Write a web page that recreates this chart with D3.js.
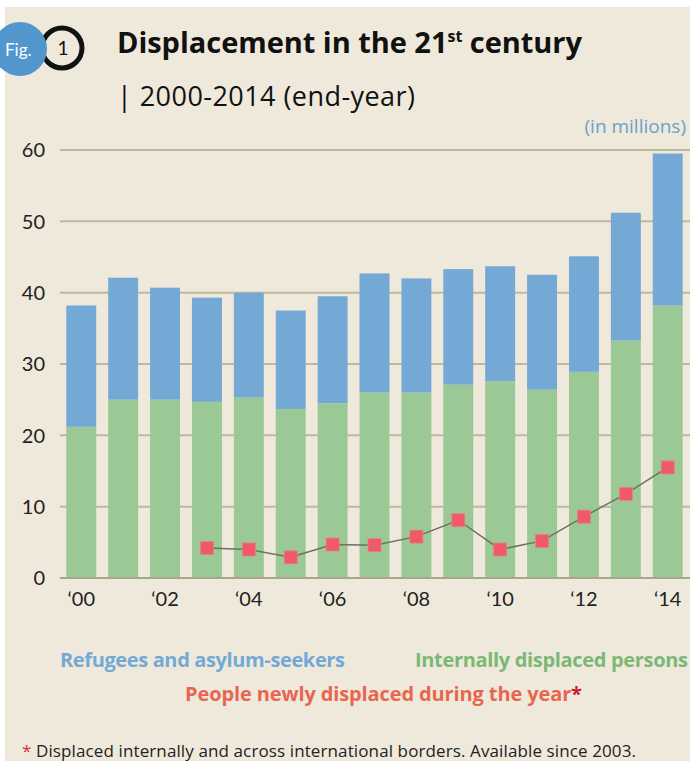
<!DOCTYPE html>
<head>
    <meta charset="utf-8">
    <script src="https://cdn.jsdelivr.net/npm/d3@7"></script>
    <style type="text/css">
        body { margin: 0; background: #fff; }
        svg { display: block; font-family: Lato, "Open Sans", sans-serif; }
        .os { font-family: "Open Sans", sans-serif; }
    </style>
</head>
<body>
    <div id="chart"></div>
</body>
</html>

<script type="text/javascript">
	// Data (millions, end-year)
	var years = d3.range(2000, 2015);
	var idps = [21.2, 25.0, 25.0, 24.7, 25.3, 23.7, 24.5, 26.0, 26.0, 27.1, 27.6, 26.4, 28.9, 33.3, 38.2];
	var refugees = [17.0, 17.1, 15.7, 14.6, 14.7, 13.8, 15.0, 16.7, 16.0, 16.2, 16.1, 16.1, 16.2, 17.9, 21.3];
	var newlyDisplaced = [null, null, null, 4.2, 4.0, 2.9, 4.7, 4.6, 5.8, 8.1, 4.0, 5.2, 8.6, 11.8, 15.5];
	var yTicks = [0, 10, 20, 30, 40, 50, 60];
	var xLabelYears = [2000, 2002, 2004, 2006, 2008, 2010, 2012, 2014];

	var width = 690, height = 761;

	var svg = d3.select('#chart').append("svg")
		.attr("width", width)
		.attr("height", height);

	// beige panel with thin white margin top/left
	svg.append("rect")
		.attr("x", 5).attr("y", 7)
		.attr("width", width - 5).attr("height", height - 7)
		.attr("fill", "#efe9dc");

	var x = d3.scaleBand()
		.domain(years)
		.range([60, 689])
		.paddingInner(0.285)
		.paddingOuter(0.15);

	var y = d3.scaleLinear()
		.domain([0, 60])
		.range([578, 150]);

	// gridlines
	svg.append("g").selectAll("line")
		.data(yTicks)
	  .enter().append("line")
		.attr("x1", 60).attr("x2", 690)
		.attr("y1", function(d) { return y(d); })
		.attr("y2", function(d) { return y(d); })
		.attr("stroke", function(d) { return d === 0 ? "#a9a68c" : "#bdb9a0"; })
		.attr("stroke-width", 2);

	// y labels
	svg.append("g").selectAll("text")
		.data(yTicks)
	  .enter().append("text")
		.attr("x", 45)
		.attr("y", function(d) { return y(d); })
		.attr("dy", "0.36em")
		.attr("text-anchor", "end")
		.attr("font-size", 20)
		.attr("fill", "#222")
		.text(function(d) { return d; });

	// stacked bars
	var bars = svg.append("g");
	bars.selectAll(".idp")
		.data(years)
	  .enter().append("rect")
		.attr("class", "idp")
		.attr("x", function(d) { return x(d); })
		.attr("width", x.bandwidth())
		.attr("y", function(d, i) { return y(idps[i]); })
		.attr("height", function(d, i) { return y(0) - y(idps[i]) - 1; })
		.attr("fill", "#9bc996");

	bars.selectAll(".ref")
		.data(years)
	  .enter().append("rect")
		.attr("class", "ref")
		.attr("x", function(d) { return x(d); })
		.attr("width", x.bandwidth())
		.attr("y", function(d, i) { return y(idps[i] + refugees[i]); })
		.attr("height", function(d, i) { return y(idps[i]) - y(idps[i] + refugees[i]); })
		.attr("fill", "#74a9d5");

	// newly displaced line + markers
	var pts = years.map(function(d, i) { return {year: d, v: newlyDisplaced[i]}; })
		.filter(function(d) { return d.v !== null; });

	var line = d3.line()
		.x(function(d) { return x(d.year) + x.bandwidth() / 2; })
		.y(function(d) { return y(d.v); });

	svg.append("path")
		.datum(pts)
		.attr("d", line)
		.attr("fill", "none")
		.attr("stroke", "#6f6f66")
		.attr("stroke-width", 1.5);

	svg.append("g").selectAll("rect")
		.data(pts)
	  .enter().append("rect")
		.attr("x", function(d) { return x(d.year) + x.bandwidth() / 2 - 6.5; })
		.attr("y", function(d) { return y(d.v) - 6.5; })
		.attr("width", 13).attr("height", 13)
		.attr("fill", "#ef5a66")
		.attr("stroke", "#e0838a")
		.attr("stroke-width", 0.8);

	// x labels
	svg.append("g").selectAll("text")
		.data(xLabelYears)
	  .enter().append("text")
		.attr("x", function(d) { return x(d) + x.bandwidth() / 2; })
		.attr("y", 606)
		.attr("text-anchor", "middle")
		.attr("font-size", 20)
		.attr("fill", "#222")
		.text(function(d) { return "\u2018" + String(d).slice(2); });

	// Fig. badge
	svg.append("circle")
		.attr("cx", 62).attr("cy", 48).attr("r", 20)
		.attr("fill", "none").attr("stroke", "#111").attr("stroke-width", 5);
	svg.append("text")
		.attr("x", 63).attr("y", 55)
		.attr("text-anchor", "middle")
		.attr("font-size", 19)
		.attr("fill", "#111")
		.text("1");
	svg.append("circle")
		.attr("cx", 20).attr("cy", 49).attr("r", 27)
		.attr("fill", "#5197cd");
	svg.append("text")
		.attr("x", 5).attr("y", 56)
		.attr("font-size", 17)
		.attr("fill", "#fff")
		.text("Fig.");

	// title
	var title = svg.append("text")
		.attr("class", "os")
		.attr("x", 117).attr("y", 53)
		.attr("font-size", 29)
		.attr("font-weight", 700)
		.attr("textLength", 465)
		.attr("fill", "#111");
	title.append("tspan").text("Displacement in the 21");
	title.append("tspan").attr("font-size", 16).attr("dy", -11).text("st");
	title.append("tspan").attr("dy", 11).text(" century");

	svg.append("text")
		.attr("class", "os")
		.attr("x", 117).attr("y", 106)
		.attr("font-size", 27)
		.attr("font-weight", 400)
		.attr("textLength", 298)
		.attr("fill", "#111")
		.text("| 2000-2014 (end-year)");

	svg.append("text")
		.attr("class", "os")
		.attr("x", 686).attr("y", 133)
		.attr("text-anchor", "end")
		.attr("font-size", 19)
		.attr("fill", "#6a9fcc")
		.text("(in millions)");

	// legend
	svg.append("text")
		.attr("class", "os")
		.attr("x", 60).attr("y", 667)
		.attr("font-size", 20).attr("font-weight", 700)
		.attr("textLength", 285)
		.attr("fill", "#74a9d5")
		.text("Refugees and asylum-seekers");
	svg.append("text")
		.attr("class", "os")
		.attr("x", 415).attr("y", 667)
		.attr("font-size", 20).attr("font-weight", 700)
		.attr("textLength", 273)
		.attr("fill", "#7cb874")
		.text("Internally displaced persons");
	var lg = svg.append("text")
		.attr("class", "os")
		.attr("x", 185).attr("y", 701)
		.attr("font-size", 20).attr("font-weight", 700)
		.attr("textLength", 397)
		.attr("fill", "#e8664f");
	lg.append("tspan").text("People newly displaced during the year");
	lg.append("tspan").attr("fill", "#c8202e").text("*");

	// footnote
	var fn = svg.append("text")
		.attr("class", "os")
		.attr("x", 22).attr("y", 757)
		.attr("font-size", 17)
		.attr("textLength", 614)
		.attr("fill", "#222");
	fn.append("tspan").attr("fill", "#d0303a").text("* ");
	fn.append("tspan").text("Displaced internally and across international borders. Available since 2003.");
</script>
